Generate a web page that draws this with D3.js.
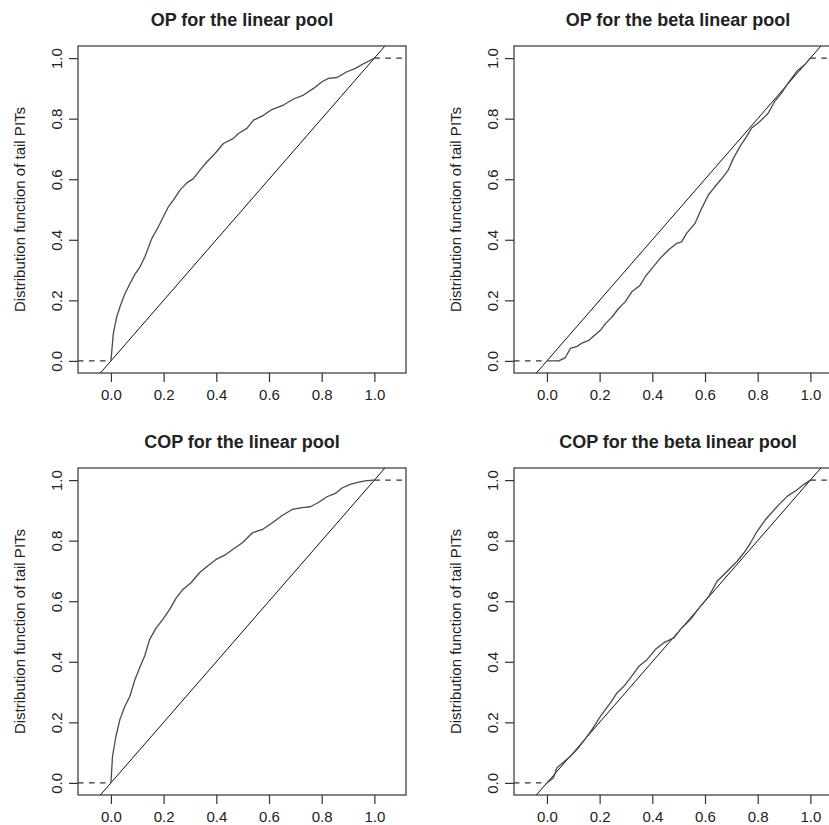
<!DOCTYPE html>
<html>
<head>
<meta charset="utf-8">
<script src="https://cdn.jsdelivr.net/npm/d3@7"></script>
<style>
  body { margin: 0; background: #fff; }
  svg { display: block; font-family: "Liberation Sans", Arial, sans-serif; }
</style>
</head>
<body>
<div id="chart"></div>
<script>
// panel titles
const titles = [
  "OP for the linear pool",
  "OP for the beta linear pool",
  "COP for the linear pool",
  "COP for the beta linear pool"
];

// ECDF of tail PITs
const opLinX = [0, 0.009, 0.022, 0.034, 0.053, 0.072, 0.091, 0.11, 0.129, 0.155, 0.18, 0.199, 0.218, 0.237, 0.262, 0.288, 0.313, 0.338, 0.364, 0.395, 0.427, 0.465, 0.484, 0.516, 0.541, 0.579, 0.611, 0.655, 0.693, 0.731, 0.769, 0.801, 0.826, 0.858, 0.896, 0.928, 0.96, 0.985, 1];
const opLinY = [0, 0.09, 0.145, 0.178, 0.222, 0.255, 0.286, 0.31, 0.344, 0.404, 0.443, 0.476, 0.509, 0.531, 0.564, 0.588, 0.602, 0.63, 0.657, 0.685, 0.718, 0.735, 0.751, 0.768, 0.795, 0.811, 0.83, 0.845, 0.865, 0.878, 0.9, 0.922, 0.933, 0.936, 0.955, 0.966, 0.982, 0.993, 1];

const opBetaX = [0, 0.045, 0.07, 0.089, 0.115, 0.133, 0.159, 0.181, 0.203, 0.222, 0.247, 0.272, 0.297, 0.322, 0.354, 0.373, 0.398, 0.429, 0.461, 0.492, 0.511, 0.53, 0.562, 0.587, 0.612, 0.637, 0.669, 0.688, 0.707, 0.732, 0.757, 0.776, 0.807, 0.839, 0.864, 0.889, 0.914, 0.952, 0.977, 1];
const opBetaY = [0, 0, 0.011, 0.041, 0.048, 0.059, 0.068, 0.085, 0.101, 0.123, 0.145, 0.173, 0.195, 0.228, 0.25, 0.278, 0.305, 0.338, 0.366, 0.388, 0.393, 0.421, 0.454, 0.503, 0.547, 0.575, 0.608, 0.63, 0.668, 0.707, 0.74, 0.768, 0.79, 0.817, 0.856, 0.883, 0.916, 0.96, 0.977, 1];

const copLinX = [0, 0.006, 0.019, 0.034, 0.053, 0.072, 0.091, 0.109, 0.128, 0.147, 0.172, 0.197, 0.223, 0.248, 0.273, 0.304, 0.336, 0.367, 0.399, 0.436, 0.462, 0.499, 0.537, 0.575, 0.613, 0.65, 0.688, 0.726, 0.757, 0.789, 0.82, 0.852, 0.877, 0.908, 0.94, 0.971, 1];
const copLinY = [0, 0.088, 0.154, 0.209, 0.253, 0.286, 0.341, 0.38, 0.419, 0.474, 0.512, 0.54, 0.573, 0.611, 0.639, 0.661, 0.694, 0.716, 0.738, 0.754, 0.771, 0.793, 0.826, 0.837, 0.859, 0.883, 0.903, 0.909, 0.912, 0.927, 0.945, 0.956, 0.974, 0.986, 0.993, 0.998, 1];

const copBetaX = [0, 0.013, 0.025, 0.038, 0.063, 0.089, 0.114, 0.139, 0.171, 0.203, 0.241, 0.266, 0.292, 0.317, 0.349, 0.38, 0.412, 0.444, 0.482, 0.507, 0.545, 0.583, 0.615, 0.646, 0.684, 0.722, 0.748, 0.773, 0.798, 0.83, 0.875, 0.913, 0.951, 0.976, 1];
const copBetaY = [0, 0.009, 0.017, 0.05, 0.068, 0.088, 0.11, 0.138, 0.176, 0.22, 0.264, 0.297, 0.319, 0.347, 0.385, 0.407, 0.441, 0.463, 0.479, 0.507, 0.54, 0.584, 0.617, 0.666, 0.699, 0.732, 0.76, 0.793, 0.831, 0.87, 0.914, 0.947, 0.969, 0.986, 1];

const tickValues = [0, 0.2, 0.4, 0.6, 0.8, 1.0];
const yLabel = "Distribution function of tail PITs";

const seriesX = [opLinX, opBetaX, copLinX, copBetaX];
const seriesY = [opLinY, opBetaY, copLinY, copBetaY];

const width = 829, height = 825;
const boxW = 328, boxH = 327;
const origins = [[78, 46], [514, 46], [78, 468], [514, 468]];

const svg = d3.select("#chart").append("svg")
  .attr("width", width)
  .attr("height", height);

titles.forEach((title, i) => {
  const [left, top] = origins[i];
  const data = seriesX[i].map((v, j) => [v, seriesY[i][j]]);

  const x = d3.scaleLinear().domain([-0.125, 1.12]).range([left, left + boxW]);
  const y = d3.scaleLinear().domain([-0.04, 1.04]).range([top + boxH, top]);

  const clipId = "clip" + i;
  svg.append("clipPath").attr("id", clipId)
    .append("rect")
      .attr("x", left).attr("y", top)
      .attr("width", boxW).attr("height", boxH);

  const g = svg.append("g").attr("clip-path", `url(#${clipId})`);

  // dashed tails of the ecdf
  g.append("line")
    .attr("x1", x(-0.125)).attr("x2", x(0))
    .attr("y1", y(0)).attr("y2", y(0))
    .attr("stroke", "#333").attr("stroke-width", 1.2)
    .attr("stroke-dasharray", "5.5,5.5");
  g.append("line")
    .attr("x1", x(1)).attr("x2", x(1.12))
    .attr("y1", y(1)).attr("y2", y(1))
    .attr("stroke", "#333").attr("stroke-width", 1.2)
    .attr("stroke-dasharray", "5.5,5.5");

  // 45 degree reference line
  g.append("line")
    .attr("x1", x(-0.125)).attr("y1", y(-0.125))
    .attr("x2", x(1.12)).attr("y2", y(1.12))
    .attr("stroke", "#111").attr("stroke-width", 1);

  g.append("path")
    .datum(data)
    .attr("fill", "none")
    .attr("stroke", "#4a4a4a")
    .attr("stroke-width", 1.3)
    .attr("stroke-linejoin", "round")
    .attr("d", d3.line().x(d => x(d[0])).y(d => y(d[1])));

  // frame
  svg.append("rect")
    .attr("x", left).attr("y", top)
    .attr("width", boxW).attr("height", boxH)
    .attr("fill", "none")
    .attr("stroke", "#333").attr("stroke-width", 1.2);

  const fmt = d3.format(".1f");

  svg.append("g")
    .attr("transform", `translate(0,${top + boxH})`)
    .call(d3.axisBottom(x).tickValues(tickValues).tickFormat(fmt).tickSize(9).tickPadding(7))
    .call(a => a.select(".domain").remove())
    .call(a => a.selectAll(".tick line").attr("stroke", "#333").attr("stroke-width", 1.2))
    .call(a => a.selectAll(".tick text").attr("font-size", 15).attr("fill", "#222")
      .attr("font-family", "Liberation Sans, Arial, sans-serif"));

  svg.append("g")
    .attr("transform", `translate(${left},0)`)
    .call(d3.axisLeft(y).tickValues(tickValues).tickFormat(fmt).tickSize(9))
    .call(a => a.select(".domain").remove())
    .call(a => a.selectAll(".tick line").attr("stroke", "#333").attr("stroke-width", 1.2))
    .call(a => a.selectAll(".tick text")
      .attr("font-size", 15).attr("fill", "#222")
      .attr("font-family", "Liberation Sans, Arial, sans-serif")
      .attr("text-anchor", "middle")
      .attr("transform", "rotate(-90)")
      .attr("x", 0).attr("y", -16.5).attr("dy", null));

  svg.append("text")
    .attr("transform", `translate(${left - 53.5},${top + boxH / 2}) rotate(-90)`)
    .attr("text-anchor", "middle")
    .attr("font-size", 15)
    .attr("fill", "#222")
    .text(yLabel);

  svg.append("text")
    .attr("x", left + boxW / 2)
    .attr("y", top - 20.5)
    .attr("text-anchor", "middle")
    .attr("font-size", 18)
    .attr("font-weight", "bold")
    .attr("fill", "#222")
    .text(title);
});
</script>
</body>
</html>
